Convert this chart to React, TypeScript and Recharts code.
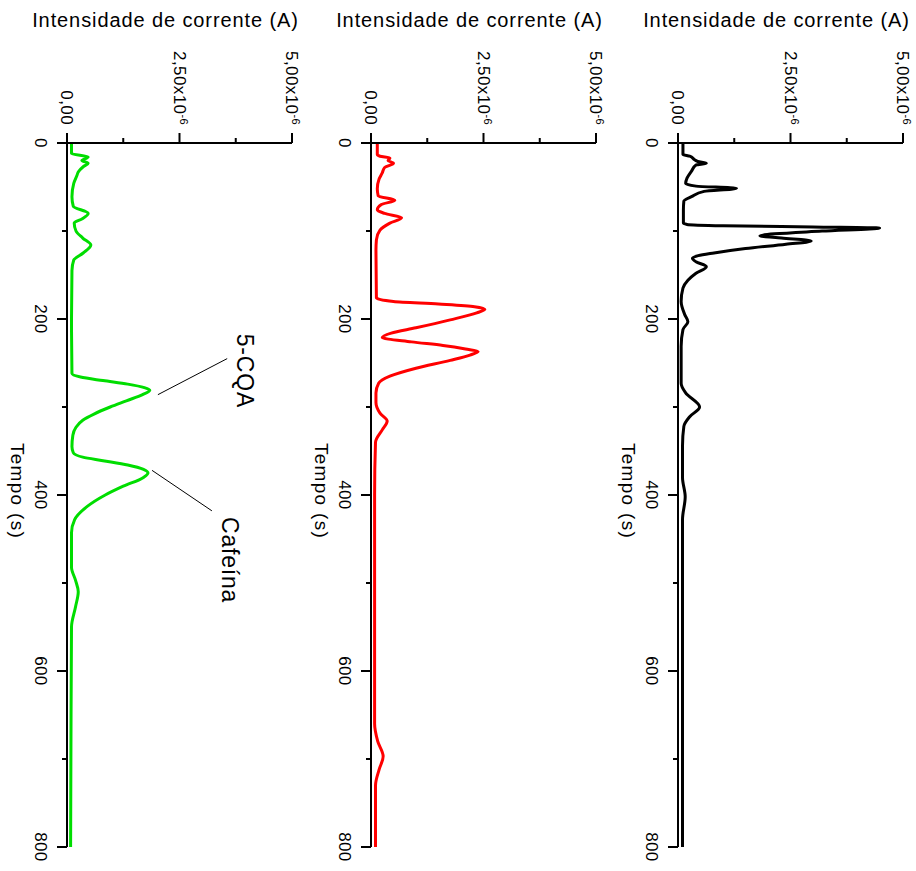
import { LineChart, Line, XAxis, YAxis, ReferenceLine, ReferenceDot } from 'recharts';

// corrente em unidades de 1e-6 A, tempo em s
const currentTicks = [0, 1.25, 2.5, 3.75, 5];
const currentMajor = [0, 2.5, 5];
const timeTicks = [0, 100, 200, 300, 400, 500, 600, 700, 800];
const timeMajor = [0, 200, 400, 600, 800];

const greenTime = [0, 12, 16, 20, 23, 27, 33, 37, 46, 61, 72, 80, 86, 91, 100, 108, 116, 125, 133, 145, 200, 262, 266, 270, 274, 278, 281, 286, 293, 300, 308, 315, 323, 332, 345, 352, 357, 361, 366, 371, 375, 380, 390, 400, 413, 428, 443, 482, 497, 510, 527, 550, 650, 800];
const greenCurrent = [0.1, 0.1, 0.47, 0.33, 0.47, 0.36, 0.25, 0.22, 0.15, 0.11, 0.14, 0.47, 0.34, 0.16, 0.2, 0.35, 0.53, 0.36, 0.15, 0.11, 0.1, 0.11, 0.3, 0.8, 1.35, 1.72, 1.84, 1.68, 1.32, 0.96, 0.6, 0.35, 0.2, 0.13, 0.11, 0.14, 0.35, 0.8, 1.35, 1.7, 1.8, 1.7, 1.25, 0.85, 0.45, 0.17, 0.1, 0.1, 0.19, 0.25, 0.19, 0.1, 0.09, 0.08];

const redTime = [0, 13, 15, 17, 20, 23, 28, 34, 41, 52, 60, 65, 70, 76, 80, 85, 91, 99, 110, 122, 176, 180, 183, 186, 189, 193, 201, 210, 216, 221, 226, 230, 234, 237, 241, 247, 256, 265, 273, 284, 295, 307, 316, 326, 340, 400, 660, 680, 697, 712, 730, 800];
const redCurrent = [0.14, 0.14, 0.2, 0.42, 0.38, 0.5, 0.3, 0.25, 0.18, 0.14, 0.16, 0.53, 0.23, 0.14, 0.3, 0.68, 0.42, 0.2, 0.12, 0.11, 0.12, 0.5, 1.5, 2.3, 2.53, 2.35, 1.76, 1.0, 0.45, 0.25, 0.9, 1.6, 2.1, 2.38, 2.2, 1.76, 1.0, 0.42, 0.17, 0.11, 0.11, 0.2, 0.36, 0.25, 0.1, 0.08, 0.08, 0.15, 0.27, 0.18, 0.1, 0.1];

const blackTime = [0, 13, 15, 19, 21, 23, 25, 32, 40, 46, 49, 51.5, 55, 61, 66, 76, 91, 92.5, 94, 95.5, 96.6, 100, 105.5, 108, 111.5, 115, 120, 125, 128, 131, 135, 140.5, 148, 156, 165, 180, 195, 203, 212, 231, 273, 284, 300, 311, 322, 344, 380, 402, 428, 800];
const blackCurrent = [0.11, 0.11, 0.26, 0.37, 0.44, 0.63, 0.4, 0.3, 0.2, 0.17, 0.4, 1.3, 0.58, 0.3, 0.13, 0.12, 0.12, 0.2, 1.0, 3.0, 4.48, 3.2, 1.82, 2.3, 2.96, 2.4, 1.5, 0.8, 0.45, 0.32, 0.4, 0.63, 0.4, 0.22, 0.11, 0.07, 0.15, 0.22, 0.11, 0.07, 0.07, 0.17, 0.48, 0.26, 0.13, 0.1, 0.1, 0.16, 0.1, 0.1];

const FONT = 'Liberation Sans, Arial, Helvetica, sans-serif';

const toRows = (t: number[], c: number[]) => t.map((v, i) => ({ t: v, c: c[i] }));

const fmtCurrent = (v: number) => v.toFixed(2).replace('.', ',');

function CurrentTick(props: any) {
  const { x, y, payload } = props;
  const v = payload.value;
  const major = currentMajor.includes(v);
  const ly = y - 18;
  return (
    <g>
      <line x1={x} y1={y} x2={x} y2={y - (major ? 10 : 5)} stroke="#000" strokeWidth={2} />
      {major && (
        <text
          x={x}
          y={ly}
          dy="0.35em"
          textAnchor="end"
          transform={`rotate(90, ${x}, ${ly})`}
          fontFamily={FONT}
          fontSize={17}
          letterSpacing={0.4}
          fill="#000"
        >
          {fmtCurrent(v)}
          {v !== 0 && 'x10'}
          {v !== 0 && (
            <tspan dy={-6} fontSize={11}>
              -6
            </tspan>
          )}
        </text>
      )}
    </g>
  );
}

function TimeTick(props: any) {
  const { x, y, payload } = props;
  const v = payload.value;
  const major = timeMajor.includes(v);
  const lx = x - 32;
  return (
    <g>
      <line x1={x} y1={y} x2={x - (major ? 10 : 5)} y2={y} stroke="#000" strokeWidth={2} />
      {major && (
        <text
          x={lx}
          y={y}
          textAnchor="middle"
          transform={`rotate(90, ${lx}, ${y})`}
          fontFamily={FONT}
          fontSize={17}
          letterSpacing={0.3}
          fill="#000"
        >
          {v}
        </text>
      )}
    </g>
  );
}

const titleLabel = (p: any) => {
  const vb = p.viewBox;
  return (
    <text
      x={vb.x + vb.width / 2 - 14}
      y={vb.y + 27}
      textAnchor="middle"
      fontFamily={FONT}
      fontSize={20}
      letterSpacing={0.9}
      fill="#000"
    >
      Intensidade de corrente (A)
    </text>
  );
};

const timeLabel = (p: any) => {
  const vb = p.viewBox;
  const cx = vb.x + 11;
  const cy = vb.y + vb.height / 2 - 4;
  return (
    <text
      x={cx}
      y={cy}
      textAnchor="middle"
      transform={`rotate(90, ${cx}, ${cy})`}
      fontFamily={FONT}
      fontSize={19}
      letterSpacing={1.3}
      fill="#000"
    >
      Tempo (s)
    </text>
  );
};

const peakLabel = (text: string) => (p: any) => {
  const vb = p.viewBox;
  const cx = vb.x + vb.width / 2;
  const cy = vb.y + vb.height / 2;
  return (
    <text
      x={cx}
      y={cy}
      dy="0.36em"
      textAnchor="middle"
      transform={`rotate(90, ${cx}, ${cy})`}
      fontFamily={FONT}
      fontSize={23}
      letterSpacing={0.8}
      fill="#000"
    >
      {text}
    </text>
  );
};

function Panel({ left, data, color, children }: { left: number; data: { t: number; c: number }[]; color: string; children?: any }) {
  return (
    <div style={{ position: 'absolute', left, top: 0 }}>
      <LineChart width={305} height={871} data={data} layout="vertical" margin={{ top: 0, right: 13, bottom: 24, left: 0 }}>
        <XAxis
          type="number"
          orientation="top"
          domain={[0, 5]}
          ticks={currentTicks}
          interval={0}
          height={143}
          tickSize={0}
          tickMargin={0}
          tickLine={false}
          tick={CurrentTick}
          axisLine={{ stroke: '#000', strokeWidth: 2 }}
          label={{ content: titleLabel }}
        />
        <YAxis
          type="number"
          dataKey="t"
          domain={[0, 800]}
          ticks={timeTicks}
          interval={0}
          width={67}
          tickSize={0}
          tickMargin={0}
          tickLine={false}
          tick={TimeTick}
          axisLine={{ stroke: '#000', strokeWidth: 2 }}
          label={{ content: timeLabel }}
        />
        <Line
          type="monotone"
          dataKey="c"
          stroke={color}
          strokeWidth={3}
          dot={false}
          activeDot={false}
          isAnimationActive={false}
        />
        {children}
      </LineChart>
    </div>
  );
}

export default function App() {
  return (
    <div style={{ position: 'absolute', left: 0, top: 0, width: 916, height: 871, background: '#fff', overflow: 'hidden' }}>
      <Panel left={0} data={toRows(greenTime, greenCurrent)} color="#00dd00">
        <ReferenceLine segment={[{ x: 2.02, y: 286 }, { x: 3.56, y: 245 }]} stroke="#000" strokeWidth={1} />
        <ReferenceLine segment={[{ x: 1.89, y: 372 }, { x: 3.22, y: 418 }]} stroke="#000" strokeWidth={1} />
        <ReferenceDot x={3.96} y={259} r={0} fill="none" stroke="none" label={{ content: peakLabel('5-CQA') }} />
        <ReferenceDot x={3.62} y={474} r={0} fill="none" stroke="none" label={{ content: peakLabel('Cafeína') }} />
      </Panel>
      <Panel left={304} data={toRows(redTime, redCurrent)} color="#ff0000" />
      <Panel left={611} data={toRows(blackTime, blackCurrent)} color="#000000" />
    </div>
  );
}
